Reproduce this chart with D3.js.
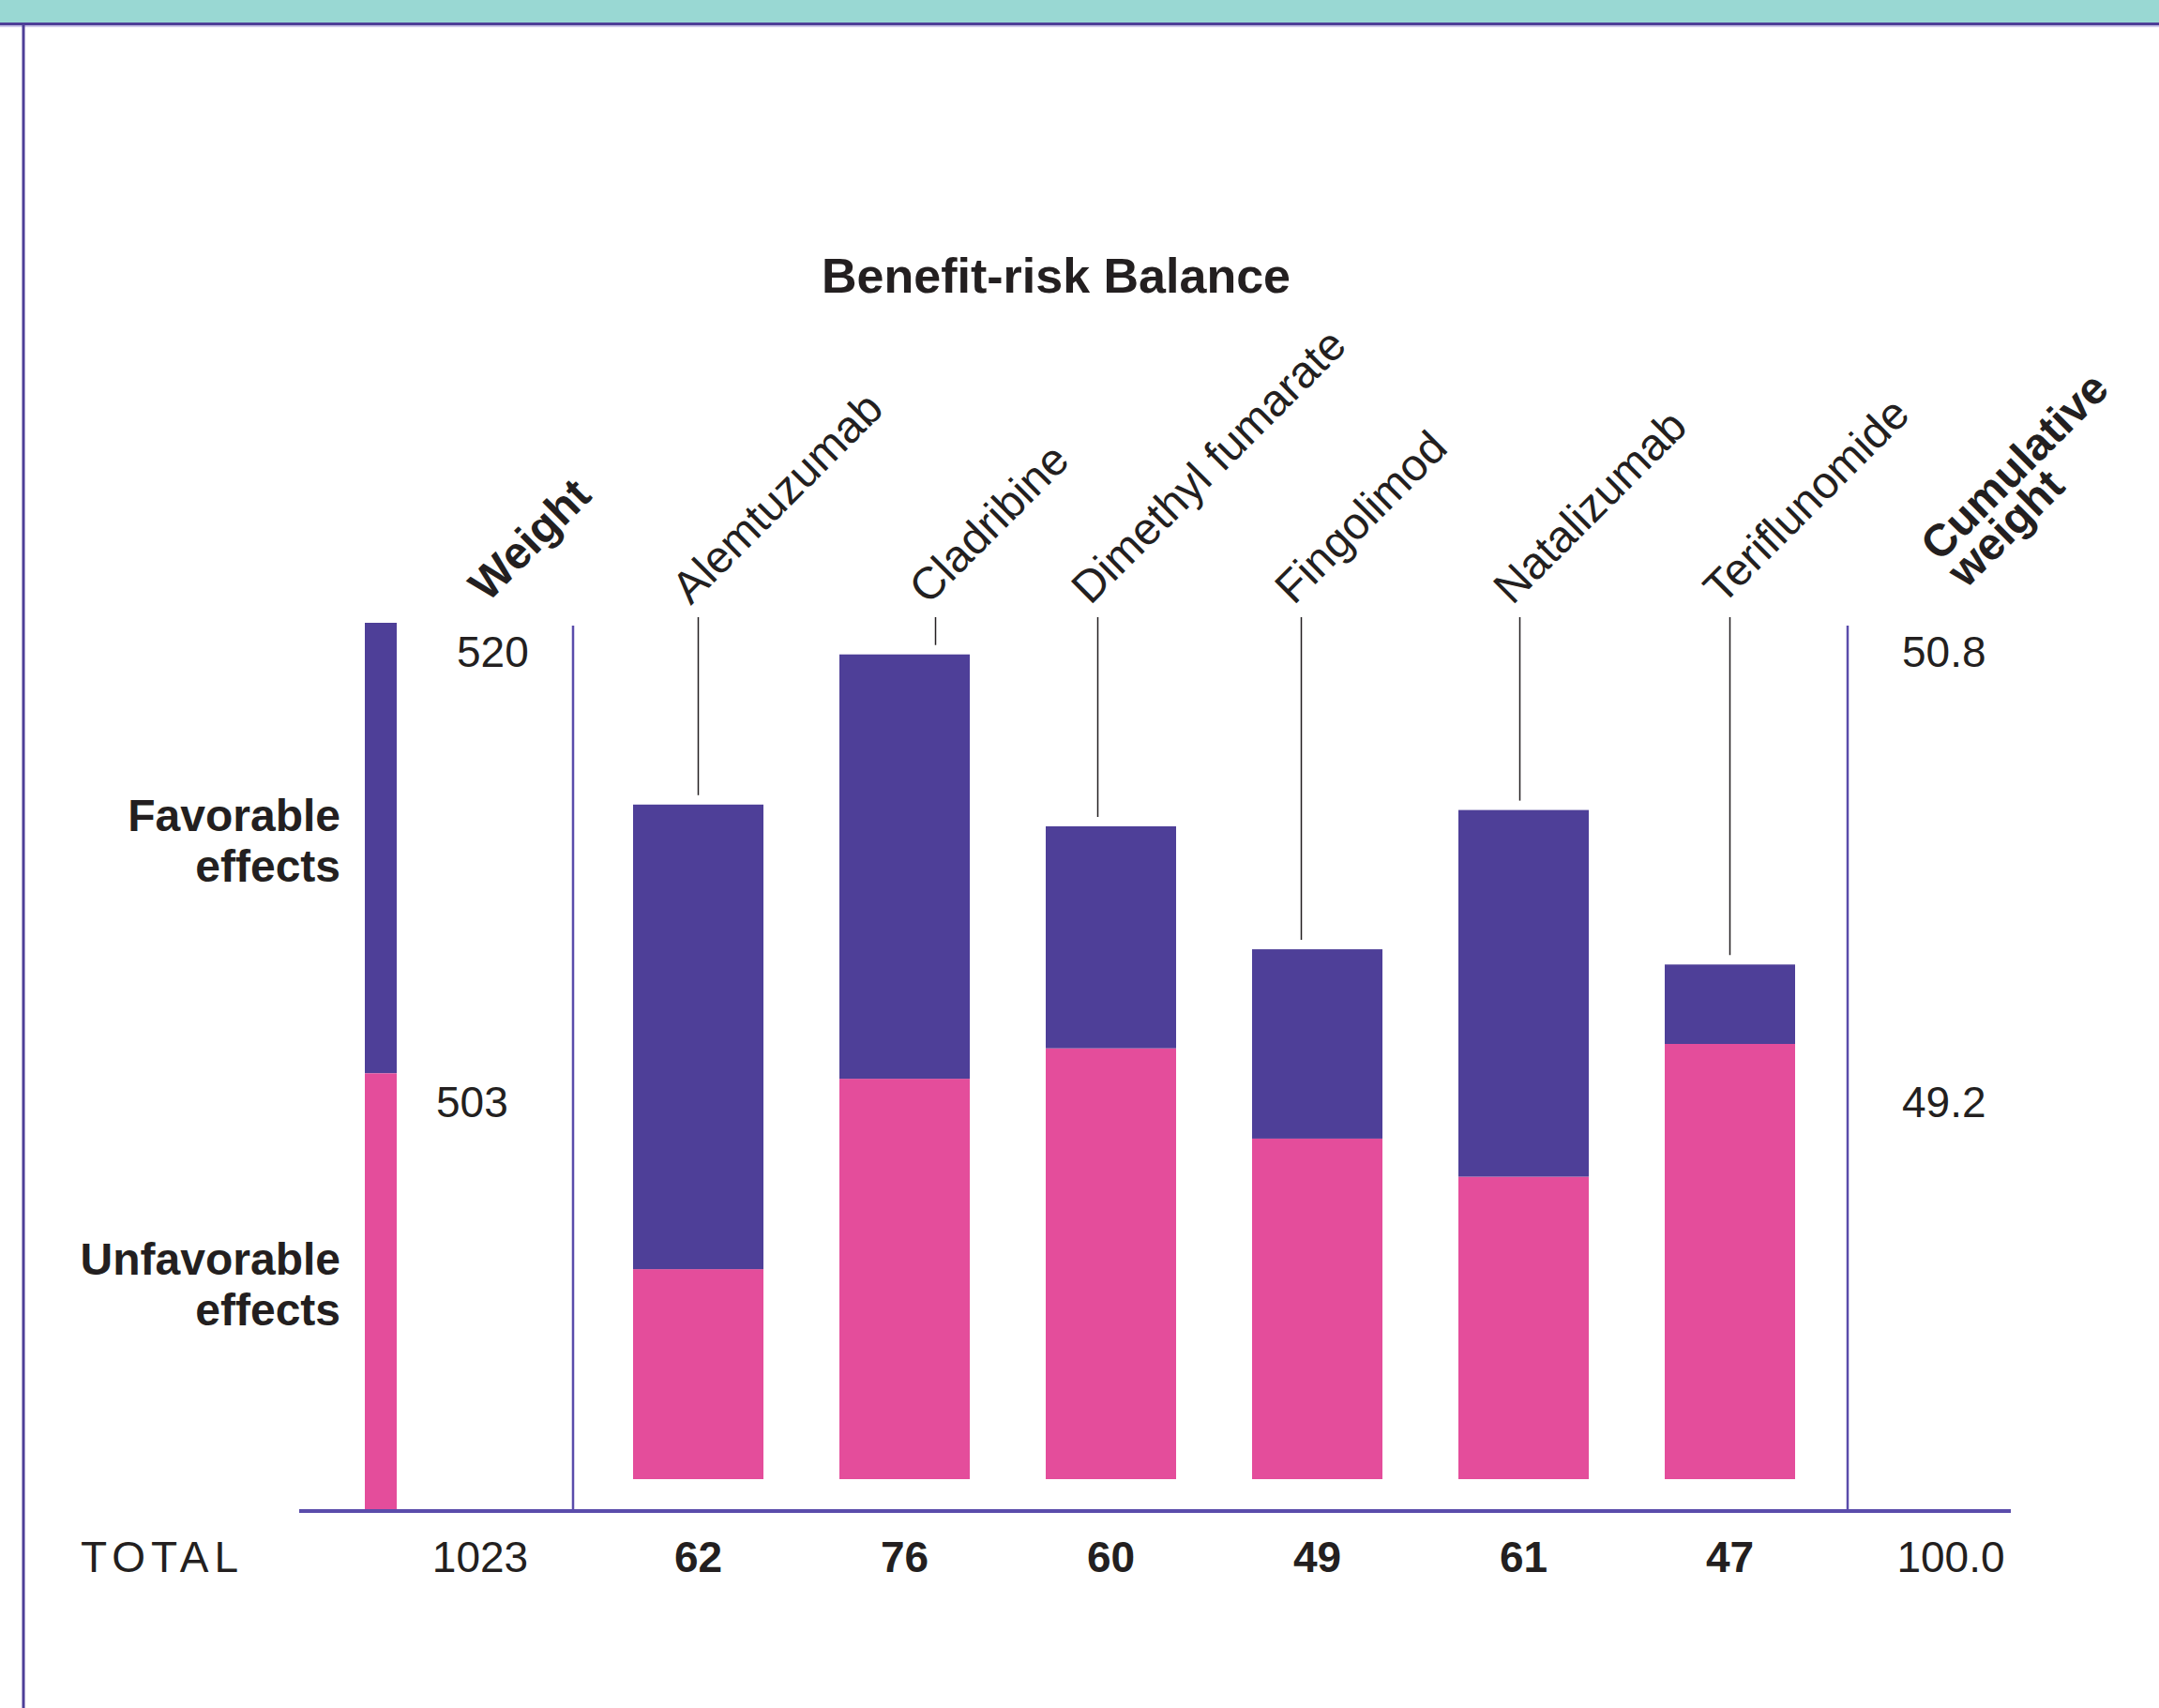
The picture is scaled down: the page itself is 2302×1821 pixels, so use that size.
<!DOCTYPE html>
<html>
<head>
<meta charset="utf-8">
<script src="https://cdn.jsdelivr.net/npm/d3@7"></script>
<style>
  html, body { margin: 0; padding: 0; background: #fff; }
  svg { display: block; font-family: "Liberation Sans", Arial, sans-serif; }
</style>
</head>
<body>
<script>
  // data
  const drugs = ['Alemtuzumab', 'Cladribine', 'Dimethyl fumarate', 'Fingolimod', 'Natalizumab', 'Teriflunomide']
  const favorable = [42.7, 39.0, 20.4, 17.4, 33.7, 7.3]
  const unfavorable = [19.3, 36.8, 39.6, 31.3, 27.8, 40.0]
  const totals = ['62', '76', '60', '49', '61', '47']
  const weights = [520, 503]           // favorable, unfavorable
  const weightTotal = 1023
  const cumulative = ['50.8', '49.2']
  const cumulativeTotal = '100.0'
  const effectLabels = [['Favorable', 'effects'], ['Unfavorable', 'effects']]

  const W = 2302, H = 1821
  const purple = '#4e3f98', pink = '#e44d9b', teal = '#99d8d3'
  const rule = '#5a4cab', ink = '#231f20'
  const fs = 46

  const svg = d3.select('body').append('svg').attr('width', W).attr('height', H)

  // header band and frame
  svg.append('rect').attr('x', 0).attr('y', 0).attr('width', W).attr('height', 24).attr('fill', teal)
  svg.append('rect').attr('x', 0).attr('y', 24).attr('width', W).attr('height', 3).attr('fill', purple)
  svg.append('rect').attr('x', 0).attr('y', 27).attr('width', W).attr('height', 2).attr('fill', '#cfc9ea')
  svg.append('line').attr('x1', 25).attr('x2', 25).attr('y1', 24).attr('y2', H)
    .attr('stroke', purple).attr('stroke-width', 3)

  svg.append('text').attr('x', 1126).attr('y', 312)
    .attr('text-anchor', 'middle').attr('font-weight', 'bold').attr('font-size', 52)
    .attr('fill', ink).text('Benefit-risk Balance')

  // scales
  const x = d3.scalePoint().domain(drugs).range([744.5, 1844.5])
  const y = d3.scaleLinear().domain([0, 80]).range([1577, 649])
  const w = d3.scaleLinear().domain([0, weightTotal]).range([1609, 664])
  const barW = 139
  const axisY = 1611

  // weight bar (unfavorable at the bottom, favorable on top)
  const wStack = [
    { lo: weights[1], hi: weightTotal, fill: purple },
    { lo: 0, hi: weights[1], fill: pink }
  ]
  svg.append('g').selectAll('rect').data(wStack).join('rect')
    .attr('x', 389).attr('width', 34)
    .attr('y', d => w(d.hi)).attr('height', d => w(d.lo) - w(d.hi))
    .attr('fill', d => d.fill)

  // weight numbers and cumulative weights, next to the segment tops
  const segTops = [w(weightTotal), w(weights[1])]
  const weightX = [487, 465]
  svg.append('g').selectAll('text').data(weights).join('text')
    .attr('x', (d, i) => weightX[i]).attr('y', (d, i) => segTops[i] + 47)
    .attr('font-size', fs).attr('fill', ink).text(d => d)
  svg.append('g').selectAll('text').data(cumulative).join('text')
    .attr('x', 2028).attr('y', (d, i) => segTops[i] + 47)
    .attr('font-size', fs).attr('fill', ink).text(d => d)

  // effect labels centred on their segment
  const segMid = [(w(weightTotal) + w(weights[1])) / 2, (w(weights[1]) + w(0)) / 2]
  effectLabels.forEach((lines, i) => {
    svg.append('text').attr('text-anchor', 'end').attr('font-weight', 'bold')
      .attr('font-size', 48).attr('fill', ink)
      .selectAll('tspan').data(lines).join('tspan')
      .attr('x', 363).attr('y', (d, j) => segMid[i] - 18 + j * 54).text(d => d)
  })

  // frame rules
  svg.append('g').selectAll('line').data([611, 1970]).join('line')
    .attr('x1', d => d).attr('x2', d => d).attr('y1', 667).attr('y2', axisY)
    .attr('stroke', rule).attr('stroke-width', 2.5)
  svg.append('line').attr('x1', 319).attr('x2', 2144).attr('y1', axisY).attr('y2', axisY)
    .attr('stroke', rule).attr('stroke-width', 4)

  // drug bars
  const rows = drugs.map((d, i) => ({ drug: d, fav: favorable[i], unfav: unfavorable[i], total: totals[i] }))
  const g = svg.append('g')
  g.selectAll('rect.unfav').data(rows).join('rect').attr('class', 'unfav')
    .attr('x', d => x(d.drug) - barW / 2).attr('width', barW)
    .attr('y', d => y(d.unfav)).attr('height', d => y(0) - y(d.unfav))
    .attr('fill', pink)
  g.selectAll('rect.fav').data(rows).join('rect').attr('class', 'fav')
    .attr('x', d => x(d.drug) - barW / 2).attr('width', barW)
    .attr('y', d => y(d.unfav + d.fav)).attr('height', d => y(d.unfav) - y(d.unfav + d.fav))
    .attr('fill', purple)

  // leaders and rotated labels
  const nudge = { Cladribine: 33, 'Dimethyl fumarate': -14, Fingolimod: -17, Natalizumab: -4 }
  const lx = d => x(d.drug) + (nudge[d.drug] || 0)
  g.selectAll('line.lead').data(rows).join('line').attr('class', 'lead')
    .attr('x1', lx).attr('x2', lx)
    .attr('y1', 658).attr('y2', d => y(d.unfav + d.fav) - 10)
    .attr('stroke', ink).attr('stroke-width', 1.5)
  g.selectAll('text.drug').data(rows).join('text').attr('class', 'drug')
    .attr('transform', d => `translate(${lx(d) - 8},646) rotate(-45)`)
    .attr('font-size', 48).attr('fill', ink).text(d => d.drug)

  svg.append('text').attr('transform', 'translate(520,643) rotate(-45)')
    .attr('font-size', 48).attr('font-weight', 'bold').attr('fill', ink).text('Weight')
  svg.append('text').attr('transform', 'translate(2068,600) rotate(-45)')
    .attr('font-size', 48).attr('font-weight', 'bold').attr('fill', ink)
    .selectAll('tspan').data(['Cumulative', 'weight']).join('tspan')
    .attr('x', 0).attr('y', (d, i) => i * 40).text(d => d)

  // TOTAL row
  const totalY = 1676
  svg.append('text').attr('x', 86).attr('y', totalY).attr('font-size', fs)
    .attr('letter-spacing', 6).attr('fill', ink).text('TOTAL')
  svg.append('text').attr('x', 512).attr('y', totalY).attr('text-anchor', 'middle')
    .attr('font-size', fs).attr('fill', ink).text(weightTotal)
  g.selectAll('text.total').data(rows).join('text').attr('class', 'total')
    .attr('x', d => x(d.drug)).attr('y', totalY).attr('text-anchor', 'middle')
    .attr('font-size', fs).attr('font-weight', 'bold').attr('fill', ink).text(d => d.total)
  svg.append('text').attr('x', 2080).attr('y', totalY).attr('text-anchor', 'middle')
    .attr('font-size', fs).attr('fill', ink).text(cumulativeTotal)
</script>
</body>
</html>
